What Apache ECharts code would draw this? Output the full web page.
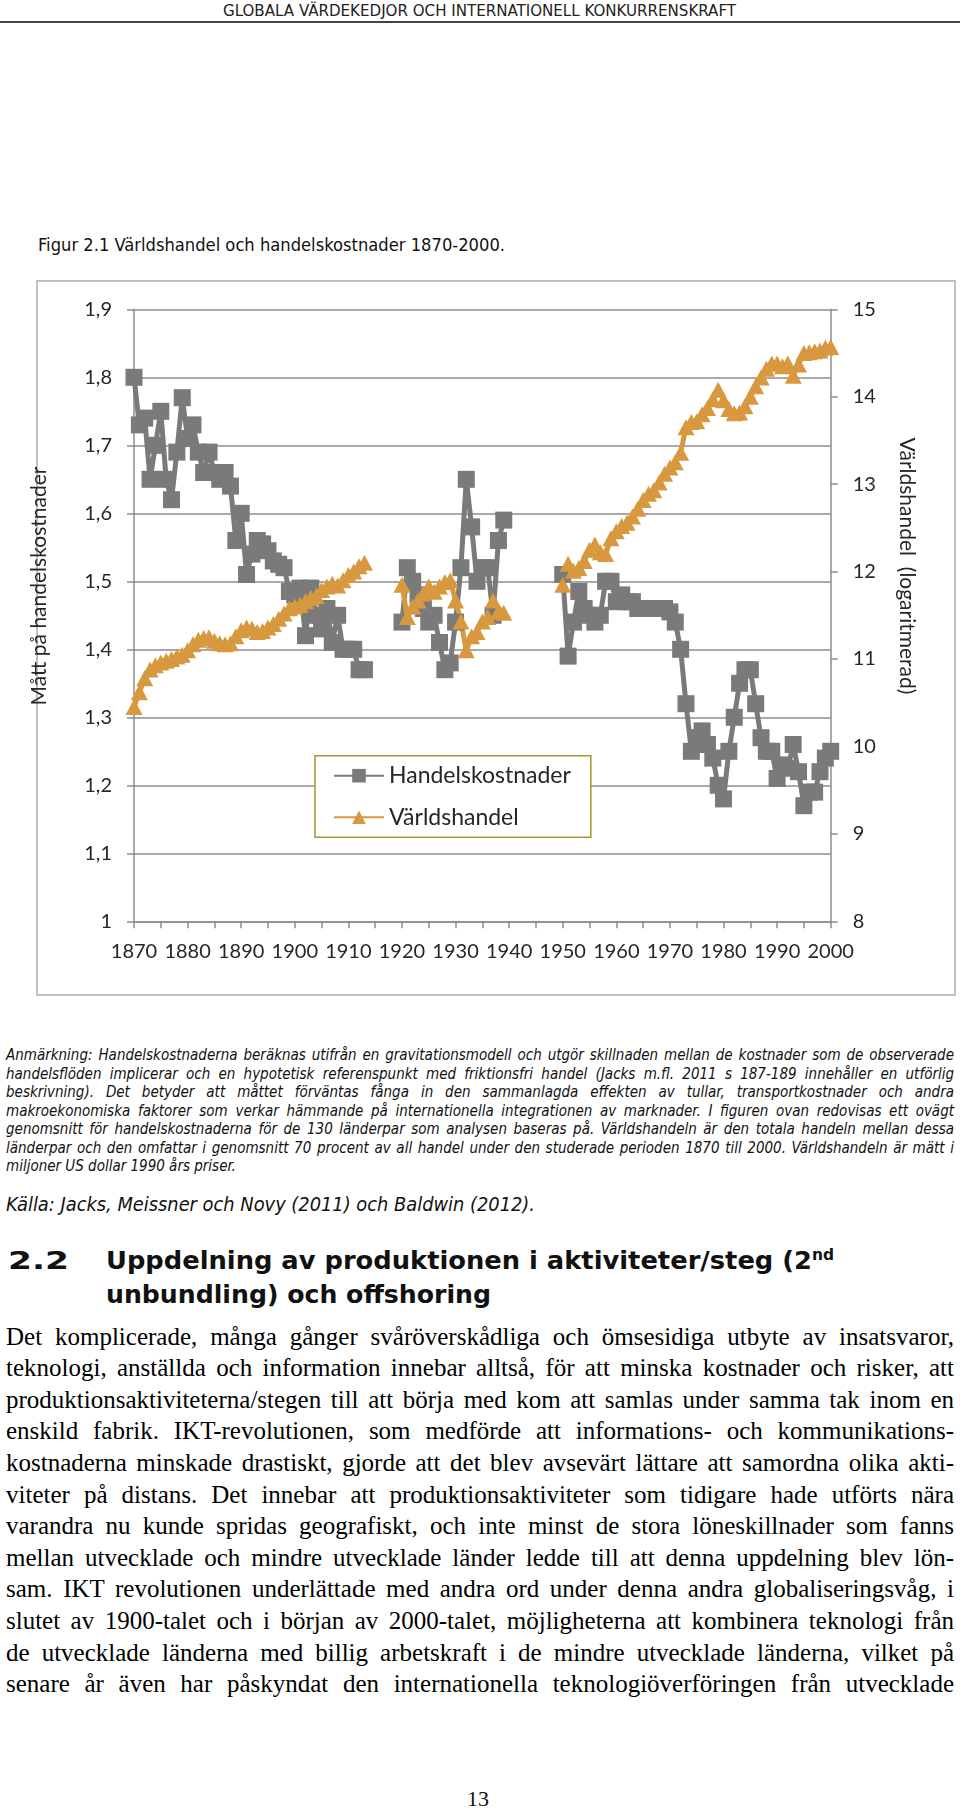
<!DOCTYPE html>
<html>
<head>
<meta charset="utf-8">
<script src="https://cdn.jsdelivr.net/npm/echarts@6/dist/echarts.min.js"></script>
<style>
body{margin:0;background:#fff;}
#page{position:relative;width:960px;height:1811px;overflow:hidden;background:#fff;}
.t{position:absolute;white-space:nowrap;display:inline-block;color:#111;}
.tah{font-family:"DejaVu Sans Condensed","DejaVu Sans",sans-serif;font-stretch:condensed;}
.ser{font-family:"Liberation Serif","Times New Roman",serif;}
#chart{position:absolute;left:0;top:270px;width:960px;height:740px;}
</style>
</head>
<body>
<div id="page">
  <div class="t tah" style="left:223px;top:1px;font-size:15px;line-height:20px;color:#222" data-fit="513">GLOBALA VÄRDEKEDJOR OCH INTERNATIONELL KONKURRENSKRAFT</div>
  <div style="position:absolute;left:0;top:21px;width:960px;height:2px;background:#444"></div>
  <div class="t tah" style="left:38px;top:233px;font-size:18px;line-height:24px" data-fit="467">Figur 2.1 Världshandel och handelskostnader 1870-2000.</div>
  <div id="chart"></div>
  <div class="t tah" style="left:6px;top:1191px;font-size:19px;line-height:26px;font-style:italic" data-fit="529">Källa: Jacks, Meissner och Novy (2011) och Baldwin (2012).</div>
  <div class="t tah" style="left:8px;top:1245px;font-size:25px;line-height:32px;font-weight:bold" data-fit="61">2.2</div>
  <div class="t tah" style="left:106px;top:1245px;font-size:25px;line-height:32px;font-weight:bold" data-fit="728">Uppdelning av produktionen i aktiviteter/steg (2<sup style="font-size:60%;line-height:0">nd</sup></div>
  <div class="t tah" style="left:106px;top:1279px;font-size:25px;line-height:32px;font-weight:bold" data-fit="385">unbundling) och offshoring</div>
  <div class="t ser" style="left:467px;top:1786px;font-size:22px;line-height:26px">13</div>
</div>
<script>
// ---------- DATA ----------
const years = [
  1870,1871,1872,1873,1874,1875,1876,1877,1878,1879,
  1880,1881,1882,1883,1884,1885,1886,1887,1888,1889,
  1890,1891,1892,1893,1894,1895,1896,1897,1898,1899,
  1900,1901,1902,1903,1904,1905,1906,1907,1908,1909,
  1910,1911,1912,1913,1914,1915,1916,1917,1918,1919,
  1920,1921,1922,1923,1924,1925,1926,1927,1928,1929,
  1930,1931,1932,1933,1934,1935,1936,1937,1938,1939,
  1940,1941,1942,1943,1944,1945,1946,1947,1948,1949,
  1950,1951,1952,1953,1954,1955,1956,1957,1958,1959,
  1960,1961,1962,1963,1964,1965,1966,1967,1968,1969,
  1970,1971,1972,1973,1974,1975,1976,1977,1978,1979,
  1980,1981,1982,1983,1984,1985,1986,1987,1988,1989,
  1990,1991,1992,1993,1994,1995,1996,1997,1998,1999,
  2000
];
const handelskostnader = [
  1.80,1.73,1.74,1.65,1.70,1.75,1.65,1.62,1.69,1.77,
  1.71,1.73,1.69,1.66,1.69,1.66,1.65,1.66,1.64,1.56,
  1.60,1.51,1.54,1.56,1.555,1.545,1.53,1.525,1.52,1.485,
  1.48,1.49,1.42,1.49,1.45,1.43,1.46,1.41,1.45,1.40,
  1.40,1.40,1.37,1.37,null,null,null,null,null,null,
  1.44,1.52,1.50,1.48,1.46,1.44,1.45,1.41,1.37,1.38,
  1.44,1.52,1.65,1.58,1.50,1.52,1.52,1.45,1.56,1.59,
  null,null,null,null,null,null,null,null,null,null,
  1.51,1.39,1.44,1.485,1.46,1.45,1.44,1.45,1.50,1.50,
  1.47,1.48,1.47,1.47,1.46,1.46,1.46,1.46,1.46,1.46,
  1.455,1.44,1.40,1.32,1.25,1.27,1.28,1.26,1.24,1.20,
  1.18,1.25,1.30,1.35,1.37,1.37,1.32,1.27,1.25,1.25,
  1.21,1.23,1.225,1.26,1.22,1.17,1.19,1.19,1.22,1.24,
  1.25
];
const varldshandel = [
  10.45,10.62,10.78,10.88,10.93,10.96,10.98,11.00,11.03,11.05,
  11.10,11.17,11.22,11.24,11.25,11.21,11.18,11.17,11.18,11.26,
  11.33,11.36,11.35,11.31,11.32,11.36,11.40,11.46,11.52,11.58,
  11.60,11.62,11.66,11.70,11.72,11.79,11.83,11.86,11.84,11.90,
  11.96,12.00,12.06,12.10,null,null,null,null,null,null,
  11.85,11.48,11.60,11.67,11.75,11.83,11.77,11.83,11.88,11.90,
  11.67,11.43,11.10,11.26,11.31,11.43,11.48,11.67,11.54,11.53,
  null,null,null,null,null,null,null,null,null,null,
  11.85,12.09,12.01,12.04,12.12,12.25,12.31,12.22,12.20,12.38,
  12.46,12.52,12.56,12.63,12.72,12.82,12.89,12.93,13.02,13.12,
  13.19,13.25,13.36,13.65,13.71,13.72,13.80,13.87,13.97,14.08,
  13.96,13.86,13.81,13.82,13.89,14.00,14.12,14.22,14.32,14.38,
  14.38,14.35,14.38,14.24,14.37,14.50,14.51,14.52,14.53,14.56,
  14.57
];
const leftTickLabels = ['1','1,1','1,2','1,3','1,4','1,5','1,6','1,7','1,8','1,9'];
const seriesNames = ['Handelskostnader','Världshandel'];

const noteLines = [
  'Anmärkning: Handelskostnaderna beräknas utifrån en gravitationsmodell och utgör skillnaden mellan de kostnader som de observerade',
  'handelsflöden implicerar och en hypotetisk referenspunkt med friktionsfri handel (Jacks m.fl. 2011 s 187-189 innehåller en utförlig',
  'beskrivning). Det betyder att måttet förväntas fånga in den sammanlagda effekten av tullar, transportkostnader och andra',
  'makroekonomiska faktorer som verkar hämmande på internationella integrationen av marknader. I figuren ovan redovisas ett ovägt',
  'genomsnitt för handelskostnaderna för de 130 länderpar som analysen baseras på. Världshandeln är den totala handeln mellan dessa',
  'länderpar och den omfattar i genomsnitt 70 procent av all handel under den studerade perioden 1870 till 2000. Världshandeln är mätt i',
  'miljoner US dollar 1990 års priser.'
];
const bodyLines = [
  'Det komplicerade, många gånger svåröverskådliga och ömsesidiga utbyte av insatsvaror,',
  'teknologi, anställda och information innebar alltså, för att minska kostnader och risker, att',
  'produktionsaktiviteterna/stegen till att börja med kom att samlas under samma tak inom en',
  'enskild fabrik. IKT-revolutionen, som medförde att informations- och kommunikations-',
  'kostnaderna minskade drastiskt, gjorde att det blev avsevärt lättare att samordna olika akti-',
  'viteter på distans. Det innebar att produktionsaktiviteter som tidigare hade utförts nära',
  'varandra nu kunde spridas geografiskt, och inte minst de stora löneskillnader som fanns',
  'mellan utvecklade och mindre utvecklade länder ledde till att denna uppdelning blev lön-',
  'sam. IKT revolutionen underlättade med andra ord under denna andra globaliseringsvåg, i',
  'slutet av 1900-talet och i början av 2000-talet, möjligheterna att kombinera teknologi från',
  'de utvecklade länderna med billig arbetskraft i de mindre utvecklade länderna, vilket på',
  'senare år även har påskyndat den internationella teknologiöverföringen från utvecklade'
];

// ---------- TEXT LAYOUT ----------
const page = document.getElementById('page');
noteLines.forEach((s, i) => {
  const d = document.createElement('div');
  d.className = 't tah';
  d.textContent = s;
  d.style.cssText = 'left:6px;font-size:15px;line-height:18px;font-style:italic;top:' + (1046 + i * 18.5) + 'px';
  if (i < noteLines.length - 1) d.dataset.just = '948';
  page.appendChild(d);
});
bodyLines.forEach((s, i) => {
  const d = document.createElement('div');
  d.className = 't ser';
  d.textContent = s;
  d.style.cssText = 'left:6px;font-size:25px;line-height:30px;color:#000;top:' + (1321.6 + i * 31.6) + 'px';
  d.dataset.just = '948';
  page.appendChild(d);
});
document.querySelectorAll('[data-fit]').forEach(el => {
  const w = el.getBoundingClientRect().width, t = +el.dataset.fit;
  el.style.transformOrigin = '0 50%';
  el.style.transform = 'scaleX(' + (t / w) + ')';
});
document.querySelectorAll('[data-just]').forEach(el => {
  const w = el.getBoundingClientRect().width, t = +el.dataset.just;
  const n = (el.textContent.match(/ /g) || []).length;
  if (w > t) {
    el.style.transformOrigin = '0 50%';
    el.style.transform = 'scaleX(' + (t / w) + ')';
  } else if (n) {
    el.style.wordSpacing = ((t - w) / n) + 'px';
  }
});

// ---------- CHART ----------
const axisGray = '#8c8c8c';
const labelColor = '#262626';
const chart = echarts.init(document.getElementById('chart'), null, {renderer: 'canvas'});
chart.setOption({
  animation: false,
  grid: {left: 134, right: 129.3, top: 39.3, bottom: 88.7},
  xAxis: {
    type: 'value', min: 1870, max: 2000, interval: 10,
    axisLine: {show: true, lineStyle: {color: axisGray, width: 1.5}},
    axisTick: {show: true, length: 7, lineStyle: {color: axisGray, width: 1.5}},
    minorTick: {show: true, splitNumber: 2, length: 7, lineStyle: {color: axisGray, width: 1.5}},
    splitLine: {show: false},
    axisLabel: {fontFamily: 'Lato', fontSize: 20, color: labelColor, margin: 20, formatter: v => String(v)}
  },
  yAxis: [
    {
      type: 'value', min: 1, max: 1.9, interval: 0.1, position: 'left',
      axisLine: {show: true, lineStyle: {color: axisGray, width: 1.5}},
      axisTick: {show: true, length: 7, lineStyle: {color: axisGray, width: 1.5}},
      splitLine: {show: true, lineStyle: {color: axisGray, width: 1.5}},
      axisLabel: {fontFamily: 'Lato', fontSize: 20, color: labelColor, margin: 22,
        formatter: v => leftTickLabels[Math.round((v - 1) * 10)]}
    },
    {
      type: 'value', min: 8, max: 15, interval: 1, position: 'right',
      axisLine: {show: true, lineStyle: {color: axisGray, width: 1.5}},
      axisTick: {show: true, length: 7, lineStyle: {color: axisGray, width: 1.5}},
      splitLine: {show: false},
      axisLabel: {fontFamily: 'Lato', fontSize: 20, color: labelColor, margin: 22}
    }
  ],
  legend: {
    orient: 'vertical', left: 315, top: 485.7,
    padding: [8, 20, 8, 18],
    itemGap: 17.6, itemWidth: 50, itemHeight: 17,
    borderColor: '#a6982e', borderWidth: 1.5,
    backgroundColor: '#fff',
    textStyle: {fontFamily: 'Lato', fontSize: 23, color: labelColor, lineHeight: 24},
    data: seriesNames
  },
  graphic: [
    {type: 'rect', silent: true, z: -10, shape: {x: 37, y: 11, width: 918, height: 714},
      style: {fill: 'none', stroke: '#c0c0c0', lineWidth: 2}},
    {type: 'text', silent: true, x: 39, y: 316, rotation: Math.PI / 2,
      style: {text: 'Mått på handelskostnader', font: '21px Lato', fill: labelColor, align: 'center', verticalAlign: 'middle'}},
    {type: 'text', silent: true, x: 907, y: 296, rotation: -Math.PI / 2,
      style: {text: 'Världshandel  (logaritmerad)', font: '21px Lato', fill: labelColor, align: 'center', verticalAlign: 'middle'}}
  ],
  series: [
    {
      name: seriesNames[0], type: 'line', yAxisIndex: 0,
      data: years.map((y, i) => [y, handelskostnader[i]]),
      connectNulls: false,
      symbol: 'rect', symbolSize: 17,
      lineStyle: {color: '#7a7a7a', width: 5},
      itemStyle: {color: '#7a7a7a'}
    },
    {
      name: seriesNames[1], type: 'line', yAxisIndex: 1,
      data: years.map((y, i) => [y, varldshandel[i]]),
      connectNulls: false,
      symbol: 'triangle', symbolSize: [17, 16],
      lineStyle: {color: '#d8983f', width: 5},
      itemStyle: {color: '#d8983f'}
    }
  ]
});
</script>
</body>
</html>
